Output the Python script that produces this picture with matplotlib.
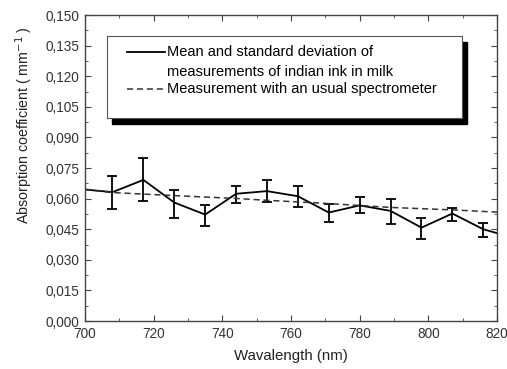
#Absorption coefficient of indian ink in milk vs. wavelength, compared with a spectrometer measurement.
import matplotlib.pyplot as plt
from matplotlib.patches import Rectangle
from matplotlib.ticker import MultipleLocator, FuncFormatter

plt.rcParams['font.family'] = ['Liberation Sans', 'DejaVu Sans']

#mean values with their error bar ends
wl = [700, 708, 717, 726, 735, 744, 753, 762, 771, 780, 789, 798, 807, 816, 820]
mean = [0.0645, 0.0632, 0.0692, 0.0581, 0.0522, 0.0624, 0.0637, 0.0612, 0.0532,
        0.0567, 0.0540, 0.0458, 0.0527, 0.0450, 0.0431]
upper = [None, 0.0709, 0.0798, 0.0643, 0.0567, 0.0664, 0.0692, 0.0663, 0.0576,
         0.0608, 0.0597, 0.0506, 0.0554, 0.0482, None]
lower = [None, 0.0547, 0.0587, 0.0503, 0.0467, 0.0581, 0.0583, 0.0559, 0.0487,
         0.0530, 0.0477, 0.0404, 0.0491, 0.0411, None]

#usual spectrometer measurement
spec_wl = [700, 708, 726, 744, 753, 771, 789, 807, 820]
spec = [0.0645, 0.0630, 0.0615, 0.0601, 0.0592, 0.0576, 0.0557, 0.0545, 0.0534]

fig = plt.figure(figsize=(5.07, 3.69), dpi=100)
ax = fig.add_axes([0.1677, 0.130, 0.8126, 0.829])

ax.plot(wl, mean, color='black', lw=1.3)
#error bars only where measured
ex = [w for w, u in zip(wl, upper) if u is not None]
ey = [m for m, u in zip(mean, upper) if u is not None]
lo = [m - l for m, l in zip(mean, lower) if l is not None]
hi = [u - m for m, u in zip(mean, upper) if u is not None]
ax.errorbar(ex, ey, yerr=[lo, hi], fmt='none', ecolor='black', elinewidth=1.3,
            capsize=3.5, capthick=1.3)
ax.plot(spec_wl, spec, color='#333333', lw=1.1, ls=(0, (4, 2.5)))

ax.set_xlim(700, 820)
ax.set_ylim(0, 0.150)
ax.xaxis.set_major_locator(MultipleLocator(20))
ax.xaxis.set_minor_locator(MultipleLocator(10))
ax.yaxis.set_major_locator(MultipleLocator(0.015))
ax.yaxis.set_minor_locator(MultipleLocator(0.0075))
ax.yaxis.set_major_formatter(FuncFormatter(lambda v, p: ("%.3f" % v).replace('.', ',')))
ax.tick_params(which='both', direction='in', top=True, right=True,
               labelsize=9.8, colors='#444444', labelcolor='#333333')
ax.tick_params(which='major', length=4.5, pad=4)
ax.tick_params(which='minor', length=2.5)
for s in ax.spines.values():
    s.set_color('#444444')
    s.set_linewidth(1.0)

ax.set_xlabel("Wavalength (nm)", fontsize=10.8, color='#222222', labelpad=6)
ax.set_ylabel("Absorption coefficient ( mm$^{-1}$ )", fontsize=10.3, color='#222222')
ax.yaxis.set_label_coords(-0.122, 0.64)

#legend box with a black drop shadow
bx, by, bw, bh = 0.0526, 0.6624, 0.8614, 0.269
ax.add_patch(Rectangle((bx + 0.0135, by - 0.019), bw, bh, transform=ax.transAxes,
                       facecolor='black', edgecolor='black', zorder=5))
ax.add_patch(Rectangle((bx, by), bw, bh, transform=ax.transAxes,
                       facecolor='white', edgecolor='#555555', lw=0.8, zorder=6))
ax.plot([0.1012, 0.1942], [0.880, 0.880], transform=ax.transAxes, color='black', lw=1.3, zorder=7)
ax.plot([0.1012, 0.1942], [0.757, 0.757], transform=ax.transAxes, color='#333333', lw=1.1,
        ls=(0, (4, 2.5)), zorder=7)
ax.text(0.198, 0.880, "Mean and standard deviation of", transform=ax.transAxes,
        fontsize=10.5, va='center', zorder=7)
ax.text(0.198, 0.815, "measurements of indian ink in milk", transform=ax.transAxes,
        fontsize=10.5, va='center', zorder=7)
ax.text(0.198, 0.757, "Measurement with an usual spectrometer", transform=ax.transAxes,
        fontsize=10.5, va='center', zorder=7)

fig.savefig("out.png", dpi=100)
